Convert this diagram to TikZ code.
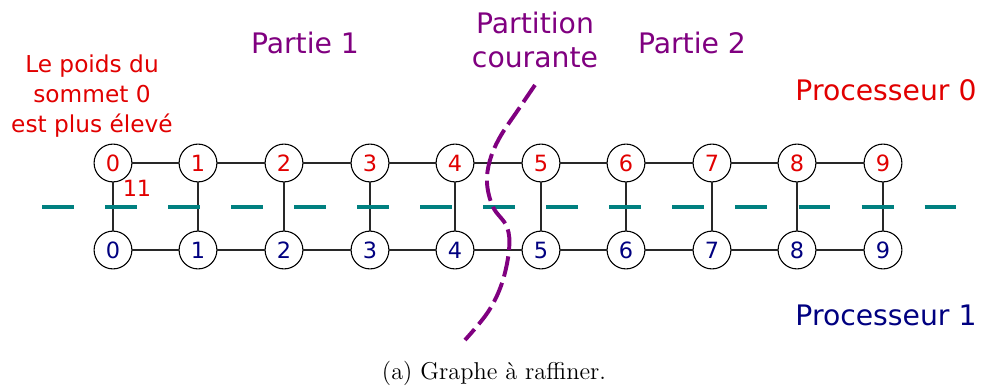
\documentclass[tikz,border=0pt]{standalone}
\usepackage{fontspec}
\newfontfamily\dv{DejaVu Sans}
\definecolor{pred}{RGB}{225,0,0}
\definecolor{pblue}{RGB}{0,0,128}
\definecolor{ppurple}{RGB}{128,0,128}
\definecolor{pteal}{RGB}{0,128,128}
\definecolor{edgegray}{RGB}{40,40,40}
\begin{document}
\begin{tikzpicture}[x=0.46pt,y=-0.46pt,
  vtx/.style={circle,draw=black,line width=0.5pt,fill=white,minimum size=17.4pt,inner sep=0pt,font=\dv\fontsize{10.3}{12}\selectfont},
  topv/.style={vtx,text=pred},
  botv/.style={vtx,text=pblue},
  edge/.style={draw=edgegray,line width=0.6pt},
  bigtxt/.style={font=\dv\fontsize{13}{15.6}\selectfont,align=center}]
\useasboundingbox (0,0) rectangle (984,387);
\coordinate (tl) at (42,207);
\coordinate (tr) at (956,207);
% nodes
\foreach \i/\x in {0/113,1/198,2/284,3/370,4/455,5/541,6/626,7/712,8/797,9/883}{
  \node[topv] (t\i) at (\x,163) {\i};
  \node[botv] (b\i) at (\x,250) {\i};
}
% edges
\foreach \i in {0,...,9}{
  \draw[edge] (t\i) -- (b\i);
}
\foreach \i/\j in {0/1,1/2,2/3,3/4,4/5,5/6,6/7,7/8,8/9}{
  \draw[edge] (t\i) -- (t\j);
  \draw[edge] (b\i) -- (b\j);
}
% teal dashed separator
\draw[pteal,line width=1.9pt,dash pattern=on 14.7pt off 14.3pt] (tl) -- (tr);
% partition curve
\draw[ppurple,line width=1.8pt,dash pattern=on 9.5pt off 3pt]
  plot[smooth,tension=0.6] coordinates {(535,85) (518,110) (500,137) (490,160) (487,183) (493,207) (507,227) (509,250) (502,283) (488,312) (465,340)};
% labels
\node[bigtxt,text=ppurple] (p1) at (305,43) {Partie 1};
\node[bigtxt,text=ppurple] (p2) at (692,43) {Partie 2};
\node[bigtxt,text=ppurple] (pc) at (535,40) {Partition\\courante};
\node[bigtxt,text=pred] (pr0) at (886,90) {Processeur 0};
\node[bigtxt,text=pblue] (pr1) at (886,315) {Processeur 1};
\node[font=\dv\fontsize{10.7}{13.8}\selectfont,align=center,text=pred] (lp) at (92,96) {Le poids du\\sommet 0\\est plus élevé};
\node[font=\dv\fontsize{10.3}{12}\selectfont,text=pred] (w11) at (137,188) {11};
\node[font=\fontsize{11.2}{13}\selectfont] (cap) at (494,373) {(a) Graphe à raffiner.};
\end{tikzpicture}
\end{document}
